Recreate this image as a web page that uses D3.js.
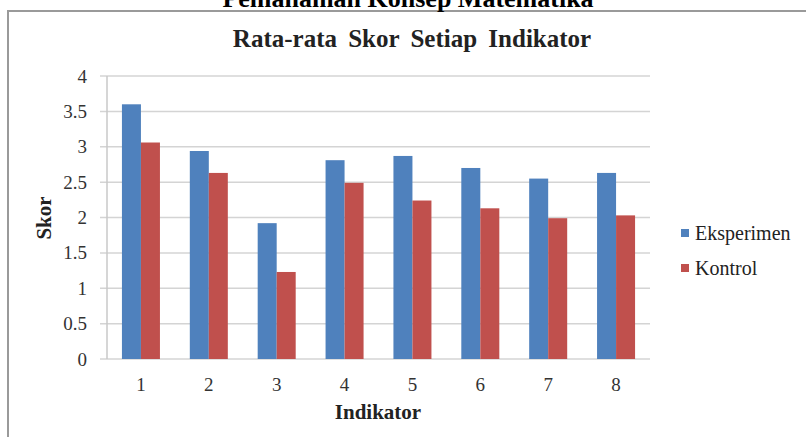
<!DOCTYPE html>
<html>
<head>
<meta charset="utf-8">
<script src="https://cdn.jsdelivr.net/npm/d3@7"></script>
<style>
  html, body { margin: 0; padding: 0; background: #fff; }
  svg { display: block; }
  svg text { font-family: "Liberation Serif", "Times New Roman", serif !important; }
</style>
</head>
<body>
<svg id="chart" width="806" height="437"></svg>
<script>
const categories = ["1", "2", "3", "4", "5", "6", "7", "8"];
const seriesNames = ["Eksperimen", "Kontrol"];
const eksperimen = [3.60, 2.94, 1.92, 2.81, 2.87, 2.70, 2.55, 2.63];
const kontrol = [3.06, 2.63, 1.23, 2.49, 2.24, 2.13, 1.99, 2.03];
const yTicks = [0, 0.5, 1, 1.5, 2, 2.5, 3, 3.5, 4];
const colors = ["#4F81BD", "#C0504D"];
const pageTitle = "Pemahaman Konsep Matematika";
const chartTitle = "Rata-rata Skor Setiap Indikator";
const xLabel = "Indikator";
const yLabel = "Skor";

const svg = d3.select("#chart");

// outer frame (cut off on right/bottom)
svg.append("rect")
  .attr("x", 8).attr("y", 11).attr("width", 840).attr("height", 500)
  .attr("fill", "none").attr("stroke", "#9a9a9a").attr("stroke-width", 2);

// page title, partially cut off as in the reference
svg.append("text")
  .attr("x", 408).attr("y", 7)
  .attr("text-anchor", "middle")
  .attr("font-weight", "bold").attr("font-size", 26)
  .attr("fill", "#000")
  .text(pageTitle);

// chart title
svg.append("text")
  .attr("x", 412).attr("y", 47)
  .attr("text-anchor", "middle")
  .attr("font-weight", "bold").attr("font-size", 25)
  .attr("word-spacing", 5)
  .attr("fill", "#222")
  .text(chartTitle);

const pLeft = 107, pRight = 650, pTop = 76, pBottom = 359;

const x = d3.scaleBand().domain(categories).range([pLeft, pRight])
  .paddingInner(0.44).paddingOuter(0.22);
const xs = d3.scaleBand().domain(seriesNames).range([0, x.bandwidth()]);
const y = d3.scaleLinear().domain([0, 4]).range([pBottom, pTop]);

// gridlines
svg.append("g").selectAll("line").data(yTicks).join("line")
  .attr("x1", pLeft - 7).attr("x2", pRight)
  .attr("y1", d => y(d)).attr("y2", d => y(d))
  .attr("stroke", "#d4d4d4").attr("stroke-width", 1.5);

// y axis line
svg.append("line")
  .attr("x1", pLeft).attr("x2", pLeft).attr("y1", pTop).attr("y2", pBottom)
  .attr("stroke", "#c8c8c8").attr("stroke-width", 1.5);

// y axis
const yAxis = d3.axisLeft(y).tickValues(yTicks).tickSize(0).tickPadding(0)
  .tickFormat(d => String(d));
const gy = svg.append("g").attr("transform", `translate(${pLeft - 20},0)`).call(yAxis);
gy.select(".domain").remove();
gy.attr("font-size", 19);
gy.selectAll("text").attr("font-size", 19).attr("fill", "#333");

// bars
const data = categories.map((c, i) => ({ c, vals: [eksperimen[i], kontrol[i]] }));
const groups = svg.append("g").selectAll("g").data(data).join("g")
  .attr("transform", d => `translate(${x(d.c)},0)`);
groups.selectAll("rect").data(d => d.vals.map((v, j) => ({ v, s: seriesNames[j], j })))
  .join("rect")
  .attr("x", d => xs(d.s))
  .attr("width", xs.bandwidth())
  .attr("y", d => y(d.v))
  .attr("height", d => y(0) - y(d.v))
  .attr("fill", d => colors[d.j]);

// x axis
const xAxis = d3.axisBottom(x).tickSize(0).tickPadding(0);
const gx = svg.append("g").attr("transform", `translate(0,${pBottom + 32})`).call(xAxis);
gx.select(".domain").remove();
gx.attr("font-size", 19);
gx.selectAll("text").attr("dy", 0).attr("font-size", 19).attr("fill", "#333");

// axis titles
svg.append("text")
  .attr("x", 378).attr("y", 419)
  .attr("text-anchor", "middle")
  .attr("font-weight", "bold").attr("font-size", 21).attr("fill", "#222")
  .text(xLabel);
svg.append("text")
  .attr("transform", "translate(51,218) rotate(-90)")
  .attr("text-anchor", "middle")
  .attr("font-weight", "bold").attr("font-size", 21).attr("fill", "#222")
  .text(yLabel);

// legend
const legend = svg.append("g").selectAll("g").data(seriesNames).join("g")
  .attr("transform", (d, i) => `translate(681,${229 + i * 35})`);
legend.append("rect").attr("width", 8).attr("height", 8)
  .attr("fill", (d, i) => colors[i]);
legend.append("text").attr("x", 14).attr("y", 11)
  .attr("font-size", 20).attr("fill", "#222")
  .text(d => d);
</script>
</body>
</html>
